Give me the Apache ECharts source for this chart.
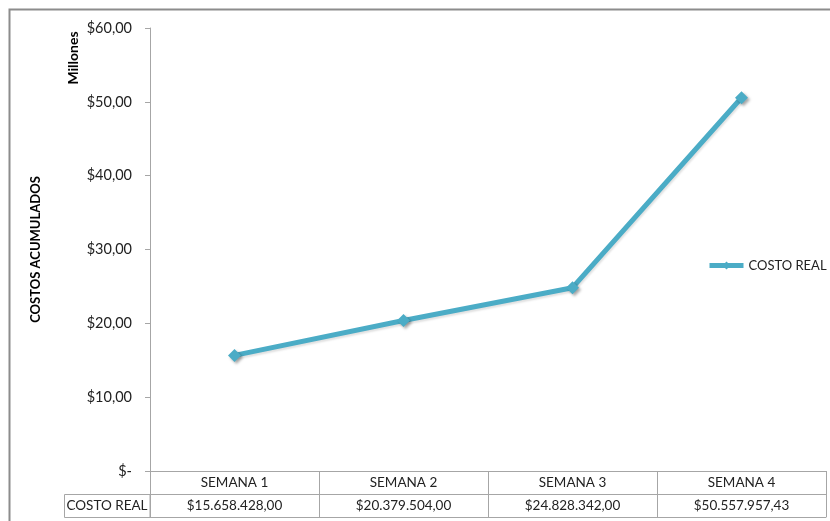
<!DOCTYPE html>
<html>
<head>
<meta charset="utf-8">
<script src="https://cdn.jsdelivr.net/npm/echarts@6/dist/echarts.min.js"></script>
<style>
  html, body { margin: 0; padding: 0; background: #fff; }
  #chart { width: 830px; height: 521px; }
</style>
</head>
<body>
<div id="chart"></div>
<script>
const categories = ["SEMANA 1", "SEMANA 2", "SEMANA 3", "SEMANA 4"];
const costoReal = [15658428.00, 20379504.00, 24828342.00, 50557957.43];
const yTicks = [0, 10, 20, 30, 40, 50, 60];
const seriesName = "COSTO REAL";

const FONT = "Lato";
const LINE_COLOR = "#4bacc6";
const GRID_GRAY = "#a6a6a6";

// pesos -> "$15.658.428,00"
function pesos(v) {
    const parts = v.toFixed(2).split(".");
    const ent = parts[0].replace(/\B(?=(\d{3})+(?!\d))/g, ".");
    return "$" + ent + "," + parts[1];
}

function millones(v) {
    if (v === 0) return "$-";
    return "$" + v.toFixed(2).replace(".", ",");
}

const chart = echarts.init(document.getElementById("chart"), null, { renderer: "canvas" });

const tableAxis = (offset, withLabels) => ({
    type: "category",
    data: categories,
    position: "bottom",
    offset: offset,
    boundaryGap: true,
    axisLine: { show: true, lineStyle: { color: GRID_GRAY, width: 1 } },
    axisTick: { show: withLabels !== null, length: 23, lineStyle: { color: GRID_GRAY } },
    axisLabel: withLabels
        ? { show: true, margin: 5, color: "#222", fontFamily: FONT, fontSize: 13.5, formatter: withLabels }
        : { show: false },
    splitLine: { show: false },
});

chart.setOption({
    animation: false,
    textStyle: { fontFamily: FONT },
    grid: { left: 150, right: 4, top: 28, bottom: 50, containLabel: false },
    legend: {
        data: [seriesName],
        left: 707,
        top: 259,
        padding: 0,
        orient: "vertical",
        itemWidth: 34,
        itemHeight: 10,
        itemGap: 4,
        lineStyle: { width: 5 },
        textStyle: { color: "#222", fontFamily: FONT, fontSize: 13 },
    },
    xAxis: [
        tableAxis(0, (v) => v),
        tableAxis(23, (v, i) => pesos(costoReal[i])),
        tableAxis(46, null),
    ],
    yAxis: {
        type: "value",
        min: yTicks[0],
        max: yTicks[yTicks.length - 1],
        interval: 10,
        name: "COSTOS ACUMULADOS",
        nameLocation: "middle",
        nameGap: 108,
        nameRotate: 90,
        nameTextStyle: { color: "#000", fontFamily: FONT, fontSize: 13, fontWeight: "bold" },
        axisLine: { show: true, lineStyle: { color: GRID_GRAY } },
        axisTick: { show: true, length: 5, lineStyle: { color: GRID_GRAY } },
        axisLabel: { color: "#222", fontFamily: FONT, fontSize: 14.5, margin: 18, formatter: millones },
        splitLine: { show: false },
    },
    series: [{
        name: seriesName,
        type: "line",
        xAxisIndex: 0,
        data: costoReal.map((v) => v / 1e6),
        symbol: "path://M0,-1L1,0L0,1L-1,0Z",
        symbolSize: 13,
        lineStyle: {
            color: LINE_COLOR,
            width: 5,
            shadowColor: "rgba(0,0,0,0.12)",
            shadowBlur: 2,
            shadowOffsetX: 1,
            shadowOffsetY: 2,
        },
        itemStyle: {
            color: LINE_COLOR,
            shadowColor: "rgba(0,0,0,0.35)",
            shadowBlur: 3,
            shadowOffsetX: 2,
            shadowOffsetY: 2,
        },
    }],
    graphic: [
        {
            type: "rect",
            shape: { x: 9.5, y: 9.5, width: 840, height: 540 },
            style: { fill: "none", stroke: "#8c8c8c", lineWidth: 2 },
            silent: true,
        },
        {
            type: "rect",
            shape: { x: 64.5, y: 494.5, width: 85.5, height: 23 },
            style: { fill: "none", stroke: GRID_GRAY, lineWidth: 1 },
            silent: true,
        },
        {
            type: "text",
            x: 107,
            y: 506,
            style: {
                text: "COSTO REAL",
                fill: "#222",
                font: "13.5px " + FONT,
                align: "center",
                verticalAlign: "middle",
            },
        },
        {
            type: "text",
            x: 73,
            y: 58,
            rotation: Math.PI / 2,
            style: {
                text: "Millones",
                fill: "#000",
                font: "bold 14px " + FONT,
                align: "center",
                verticalAlign: "middle",
            },
        },
    ],
});
</script>
</body>
</html>
